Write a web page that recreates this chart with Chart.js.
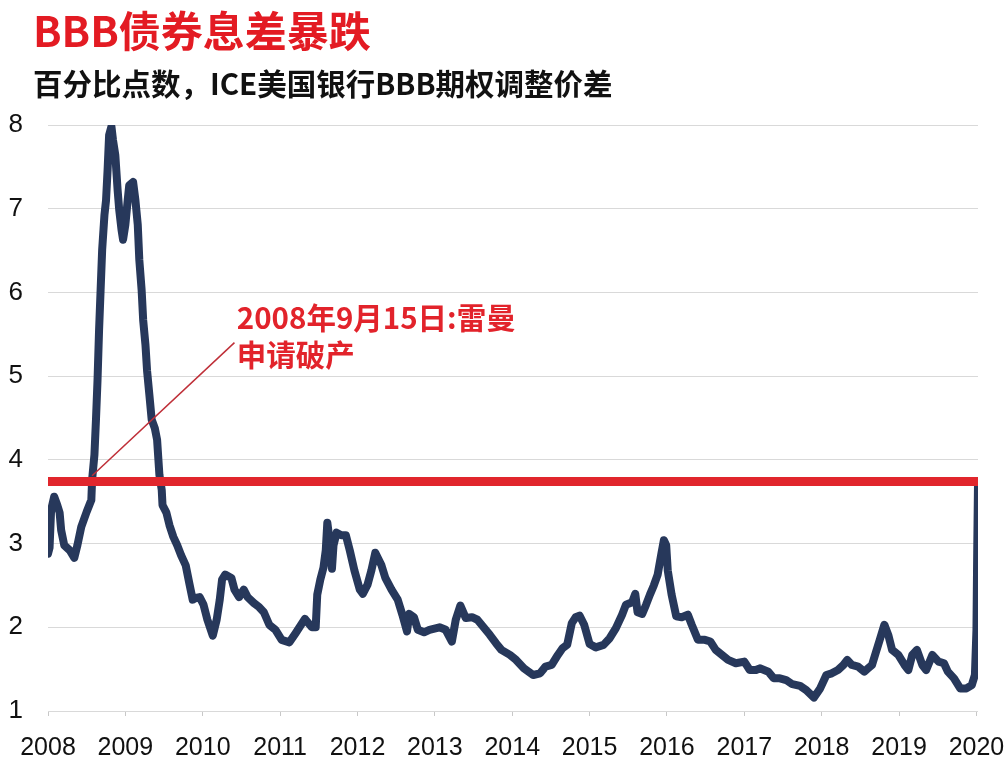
<!DOCTYPE html>
<html>
<head>
<meta charset="utf-8">
<script src="https://cdn.jsdelivr.net/npm/chart.js@4.4.1/dist/chart.umd.min.js"></script>
<style>
  html, body { margin: 0; padding: 0; background: #ffffff; }
  #wrap { position: relative; width: 1008px; height: 776px; overflow: hidden; }
  #title { position: absolute; left: 33px; top: 7px; font: bold 42px/44px "Noto Sans CJK SC", sans-serif; color: #e31b23; white-space: nowrap; }
  #subtitle { position: absolute; left: 33px; top: 66px; font: bold 29.5px/32px "Noto Sans CJK SC", sans-serif; color: #111111; white-space: nowrap; }
  canvas { position: absolute; left: 0; top: 0; }
</style>
</head>
<body>
<div id="wrap">
  <canvas id="c" width="1008" height="776"></canvas>
  <div id="title">BBB债券息差暴跌</div>
  <div id="subtitle">百分比点数，ICE美国银行BBB期权调整价差</div>
</div>
<script>
// ---- data ----
const spreadYears = [2008.00, 2008.02, 2008.04, 2008.08, 2008.12, 2008.15, 2008.17, 2008.21, 2008.28, 2008.34,
  2008.38, 2008.43, 2008.50, 2008.56, 2008.57, 2008.60, 2008.62, 2008.64, 2008.66, 2008.68,
  2008.70, 2008.73, 2008.75, 2008.77, 2008.79, 2008.82, 2008.84, 2008.87, 2008.90, 2008.92,
  2008.95, 2008.97, 2009.00, 2009.03, 2009.05, 2009.10, 2009.13, 2009.16, 2009.18, 2009.21,
  2009.23, 2009.26, 2009.28, 2009.31, 2009.34, 2009.38, 2009.41, 2009.44, 2009.47, 2009.48,
  2009.53, 2009.57, 2009.62, 2009.67, 2009.72, 2009.78, 2009.83, 2009.87, 2009.91, 2009.96,
  2010.01, 2010.06, 2010.13, 2010.18, 2010.22, 2010.25, 2010.29, 2010.37, 2010.41, 2010.47,
  2010.53, 2010.58, 2010.66, 2010.73, 2010.79, 2010.86, 2010.94, 2011.02, 2011.12, 2011.20,
  2011.32, 2011.41, 2011.46, 2011.48, 2011.52, 2011.56, 2011.59, 2011.61, 2011.64, 2011.67,
  2011.69, 2011.73, 2011.79, 2011.85, 2011.90, 2011.96, 2012.03, 2012.07, 2012.13, 2012.18,
  2012.23, 2012.31, 2012.36, 2012.44, 2012.52, 2012.58, 2012.64, 2012.67, 2012.73, 2012.78,
  2012.86, 2012.93, 2013.06, 2013.14, 2013.22, 2013.27, 2013.33, 2013.40, 2013.48, 2013.55,
  2013.63, 2013.71, 2013.79, 2013.86, 2013.97, 2014.05, 2014.15, 2014.27, 2014.36, 2014.43,
  2014.51, 2014.59, 2014.65, 2014.71, 2014.77, 2014.82, 2014.87, 2014.93, 2015.00, 2015.08,
  2015.18, 2015.26, 2015.34, 2015.42, 2015.47, 2015.55, 2015.59, 2015.62, 2015.68, 2015.73,
  2015.78, 2015.83, 2015.88, 2015.93, 2015.96, 2015.99, 2016.01, 2016.06, 2016.12, 2016.19,
  2016.27, 2016.32, 2016.40, 2016.49, 2016.56, 2016.63, 2016.71, 2016.79, 2016.89, 2017.00,
  2017.07, 2017.15, 2017.20, 2017.31, 2017.38, 2017.46, 2017.54, 2017.62, 2017.72, 2017.80,
  2017.90, 2017.98, 2018.06, 2018.13, 2018.21, 2018.28, 2018.33, 2018.39, 2018.47, 2018.55,
  2018.60, 2018.65, 2018.70, 2018.75, 2018.81, 2018.86, 2018.91, 2018.99, 2019.07, 2019.12,
  2019.17, 2019.23, 2019.30, 2019.35, 2019.43, 2019.51, 2019.58, 2019.63, 2019.71, 2019.79,
  2019.87, 2019.94, 2019.98, 2020.00, 2020.01, 2020.02];

const spreadValues = [2.88, 2.95, 3.40, 3.56, 3.46, 3.37, 3.16, 2.98, 2.92, 2.83,
  2.98, 3.20, 3.38, 3.52, 3.76, 4.06, 4.48, 4.95, 5.55, 6.03,
  6.51, 6.93, 7.10, 7.46, 7.88, 7.98, 7.82, 7.64, 7.22, 6.99,
  6.75, 6.63, 6.81, 7.10, 7.28, 7.32, 7.10, 6.81, 6.39, 6.03,
  5.67, 5.37, 5.07, 4.78, 4.48, 4.38, 4.24, 3.82, 3.64, 3.46,
  3.37, 3.22, 3.08, 2.98, 2.86, 2.74, 2.51, 2.33, 2.35, 2.36,
  2.27, 2.09, 1.90, 2.09, 2.33, 2.57, 2.63, 2.59, 2.45, 2.36,
  2.45, 2.36, 2.29, 2.24, 2.18, 2.03, 1.97, 1.85, 1.82, 1.93,
  2.10, 2.00, 2.00, 2.39, 2.57, 2.71, 2.92, 3.25, 3.04, 2.70,
  2.98, 3.13, 3.10, 3.10, 2.92, 2.68, 2.45, 2.40, 2.51, 2.68,
  2.89, 2.74, 2.59, 2.45, 2.33, 2.15, 1.95, 2.16, 2.12, 1.97,
  1.94, 1.97, 2.00, 1.97, 1.83, 2.09, 2.26, 2.11, 2.12, 2.09,
  2.00, 1.91, 1.81, 1.73, 1.67, 1.61, 1.51, 1.43, 1.45, 1.53,
  1.55, 1.67, 1.75, 1.79, 2.05, 2.12, 2.14, 2.03, 1.80, 1.76,
  1.79, 1.87, 1.99, 2.15, 2.27, 2.30, 2.40, 2.18, 2.16, 2.27,
  2.39, 2.50, 2.63, 2.89, 3.04, 2.98, 2.68, 2.39, 2.13, 2.12,
  2.15, 2.03, 1.85, 1.85, 1.83, 1.73, 1.67, 1.61, 1.57, 1.59,
  1.49, 1.49, 1.51, 1.47, 1.39, 1.39, 1.37, 1.32, 1.30, 1.25,
  1.16, 1.27, 1.43, 1.45, 1.49, 1.55, 1.61, 1.55, 1.53, 1.47,
  1.51, 1.55, 1.70, 1.85, 2.03, 1.91, 1.73, 1.67, 1.55, 1.49,
  1.67, 1.73, 1.55, 1.49, 1.67, 1.59, 1.57, 1.47, 1.39, 1.27,
  1.27, 1.31, 1.43, 1.97, 2.92, 3.72];

const yearTicks = [2008, 2009, 2010, 2011, 2012, 2013, 2014, 2015, 2016, 2017, 2018, 2019, 2020];
const yearTickLabels = ['2008', '2009', '2010', '2011', '2012', '2013', '2014', '2015', '2016', '2017', '2018', '2019', '2020'];
const valueTicks = [1, 2, 3, 4, 5, 6, 7, 8];

const referenceYears = [2008.0, 2020.02];
const referenceValues = [3.74, 3.74];

const connectorYears = [2008.57, 2010.41];
const connectorValues = [3.81, 5.40];

const annotationLines = ['2008年9月15日:雷曼', '申请破产'];
const annotationYear = 2010.44;
const annotationValues = [5.70, 5.26];

// ---- build datasets ----
const zip = (xs, ys) => xs.map((x, i) => ({ x: x, y: ys[i] }));

const annotationPlugin = {
  id: 'lehmanNote',
  afterDatasetsDraw(chart) {
    const ctx = chart.ctx;
    const xs = chart.scales.x, ys = chart.scales.y;
    ctx.save();
    ctx.font = 'bold 29.5px "Noto Sans CJK SC", sans-serif';
    ctx.fillStyle = '#e2232b';
    ctx.textAlign = 'left';
    ctx.textBaseline = 'middle';
    annotationLines.forEach((t, i) => {
      ctx.fillText(t, xs.getPixelForValue(annotationYear), ys.getPixelForValue(annotationValues[i]));
    });
    ctx.restore();
  }
};

new Chart(document.getElementById('c'), {
  type: 'line',
  data: {
    datasets: [
      {
        label: 'ref',
        data: zip(referenceYears, referenceValues),
        borderColor: '#e1262c',
        borderWidth: 9,
        borderCapStyle: 'butt',
        pointRadius: 0,
        order: 0
      },
      {
        label: 'connector',
        data: zip(connectorYears, connectorValues),
        borderColor: '#bf2f38',
        borderWidth: 1.5,
        pointRadius: 0,
        order: 1
      },
      {
        label: 'BBB OAS',
        data: zip(spreadYears, spreadValues),
        borderColor: '#27385b',
        borderWidth: 8,
        borderJoinStyle: 'round',
        borderCapStyle: 'round',
        pointRadius: 0,
        tension: 0,
        order: 2
      }
    ]
  },
  options: {
    responsive: false,
    animation: false,
    events: [],
    layout: { padding: { left: 0, right: 30, top: 125, bottom: 0 } },
    plugins: { legend: { display: false }, tooltip: { enabled: false }, title: { display: false } },
    scales: {
      x: {
        type: 'linear',
        min: 2008,
        max: 2020.02,
        afterBuildTicks: (scale) => { scale.ticks = yearTicks.map(v => ({ value: v })); },
        afterFit: (scale) => { scale.height = 65; scale.paddingLeft = 0; scale.paddingRight = 0; },
        ticks: {
          autoSkip: false,
          maxRotation: 0,
          padding: 17,
          color: '#111111',
          font: { family: "'Liberation Sans', Arial, sans-serif", size: 25 },
          callback: (v) => { const i = yearTicks.indexOf(v); return i >= 0 ? yearTickLabels[i] : ''; }
        },
        grid: { display: true, drawOnChartArea: false, drawTicks: true, tickLength: 5, color: '#c8c8c8' },
        border: { display: false }
      },
      y: {
        type: 'linear',
        min: 1,
        max: 8,
        afterBuildTicks: (scale) => { scale.ticks = valueTicks.map(v => ({ value: v })); },
        afterFit: (scale) => { scale.width = 48; scale.paddingTop = 0; scale.paddingBottom = 0; },
        ticks: {
          padding: 25,
          color: '#111111',
          font: { family: "'Liberation Sans', Arial, sans-serif", size: 26 }
        },
        grid: { color: '#d9d9d9', lineWidth: 1, drawTicks: false },
        border: { display: false }
      }
    }
  },
  plugins: [annotationPlugin]
});
</script>
</body>
</html>
